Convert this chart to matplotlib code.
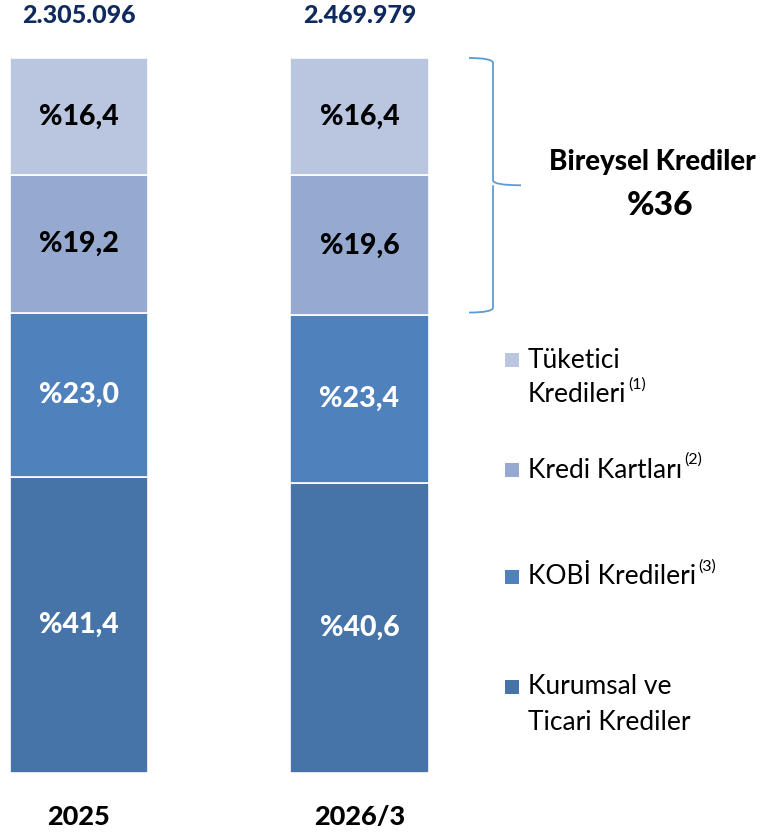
import matplotlib
matplotlib.use("Agg")
import matplotlib.pyplot as plt
from matplotlib.path import Path
from matplotlib.patches import PathPatch, Rectangle
import numpy as np

plt.rcParams['font.family'] = ['Lato', 'DejaVu Sans']

categories = ["2025", "2026/3"]
totals = ["2.305.096", "2.469.979"]
# bottom -> top
kurumsal = [41.4, 40.6]
kobi = [23.0, 23.4]
kart = [19.2, 19.6]
tuketici = [16.4, 16.4]
bireysel_label = "%36"

series = [kurumsal, kobi, kart, tuketici]
colors = ["#4674A8", "#4F81BD", "#95A9D1", "#BAC6E0"]
text_colors = ["white", "white", "black", "black"]

W, H = 765, 833
fig = plt.figure(figsize=(W / 100, H / 100), dpi=100)
ax = fig.add_axes([0, 0, 1, 1])
ax.set_axis_off()
unit = 280.5
x0px = 79
ax.set_xlim(-x0px / unit, (W - x0px) / unit)
ax.set_ylim(-60 / 715 * 100, (H - 60) / 715 * 100)

BOLD = 900

x = np.arange(len(categories))
bottom = np.zeros(len(categories))
for vals, col, tc in zip(series, colors, text_colors):
    vals = np.array(vals)
    ax.bar(x, vals, bottom=bottom, width=0.493, color=col, edgecolor="white", linewidth=1.2)
    for xi, v, b in zip(x, vals, bottom):
        ax.text(xi, b + v / 2, "%" + f"{v:.1f}".replace(".", ","), ha="center", va="center",
                color=tc, fontsize=20.5, fontweight=BOLD)
    bottom = bottom + vals

for xi, t in zip(x, totals):
    ax.text(xi, 100 + 6.0, t, ha="center", va="center", color="#0E2A5F", fontsize=18, fontweight=BOLD)
for xi, c in zip(x, categories):
    ax.text(xi, -6.1, c, ha="center", va="center", color="black", fontsize=19.5, fontweight=BOLD)

# brace spanning the individual loans (top two segments of first bar)
y_top = 100
y_bot = 100 - (kart[0] + tuketici[0])
y_mid = (y_top + y_bot) / 2
bx0 = (469 - x0px) / unit
bx1 = (493 - x0px) / unit
btip = (521 - x0px) / unit
c = 0.7
verts = [
    (bx0, y_top),
    (bx1, y_top), (bx1, y_top - c),
    (bx1, y_mid + c),
    (bx1, y_mid), (btip, y_mid),
    (bx1, y_mid), (bx1, y_mid - c),
    (bx1, y_bot + c),
    (bx1, y_bot), (bx0, y_bot),
]
codes = [Path.MOVETO, Path.CURVE3, Path.CURVE3, Path.LINETO, Path.CURVE3, Path.CURVE3,
         Path.MOVETO, Path.CURVE3, Path.LINETO, Path.CURVE3, Path.CURVE3]
ax.add_patch(PathPatch(Path(verts, codes), facecolor="none", edgecolor="#5B9BD5", linewidth=1.3))

ax.text((652 - x0px) / unit, y_mid + 3.3, "Bireysel Krediler", ha="center", va="center",
        fontsize=20, fontweight=BOLD, color="black")
ax.text((660 - x0px) / unit, y_mid - 2.8, bireysel_label, ha="center", va="center",
        fontsize=24, fontweight=BOLD, color="black")

# legend (manual, pixel positions)
def fy(py):
    return 1 - py / H

legend_items = [
    (colors[3], [("Tüketici", 360), ("Kredileri", 395)], "(1)"),
    (colors[2], [("Kredi Kartları", 470)], "(2)"),
    (colors[1], [("KOBİ Kredileri", 577)], "(3)"),
    (colors[0], [("Kurumsal ve", 687), ("Ticari Krediler", 723)], None),
]
for col, lines, sup in legend_items:
    sq_y = lines[0][1]
    fig.patches.append(Rectangle((505 / W, fy(sq_y + 7)), 14 / W, 14 / H, transform=fig.transFigure,
                                 facecolor=col, edgecolor="none"))
    for i, (txt, py) in enumerate(lines):
        t = fig.text(528 / W, fy(py), txt, ha="left", va="center", fontsize=19, color="black")
        if sup and ((len(lines) == 1) or i == 1):
            fig.canvas.draw()
            bb = t.get_window_extent()
            fig.text((bb.x1 + 2) / W, fy(py - 10), sup, ha="left", va="center", fontsize=11.5, color="black")

fig.savefig("out.png", dpi=100)
